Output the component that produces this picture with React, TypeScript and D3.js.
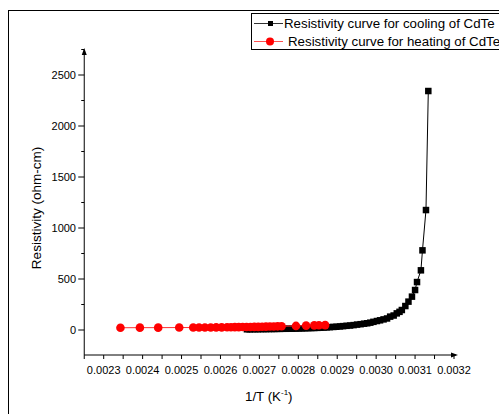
import React, { useMemo } from 'react'
import { scaleLinear, line } from 'd3'

// cooling run (black squares)
const coolX = [
    0.002668, 0.002675, 0.002682, 0.002689, 0.002696, 0.002703, 0.00271,
    0.002717, 0.002724, 0.002731, 0.002738, 0.002745, 0.002753, 0.002761,
    0.002769, 0.002777, 0.002785, 0.002793, 0.002801, 0.002809, 0.002817,
    0.002825, 0.002833, 0.002841, 0.002849, 0.002857, 0.002865, 0.002873,
    0.002881, 0.00289, 0.002898, 0.002907, 0.002915, 0.002924, 0.002933,
    0.002942, 0.002951, 0.00296, 0.002969, 0.002977, 0.002985, 0.002993,
    0.003002, 0.00301, 0.003019, 0.003028, 0.003036, 0.003045, 0.003053,
    0.00306, 0.003066, 0.003075, 0.003083, 0.003092, 0.0031, 0.003105,
    0.003115, 0.003119, 0.003128, 0.003134,
]
const coolY = [
    7, 7, 8, 8, 8, 9, 9, 9, 10, 10, 10, 11, 11, 12, 12, 13, 13, 14, 15, 16, 17,
    18, 19, 20, 21, 23, 24, 26, 28, 30, 32, 35, 38, 41, 44, 48, 53, 57, 62, 66,
    72, 80, 88, 95, 104, 113, 131, 142, 163, 178, 196, 235, 278, 327, 392, 470,
    585, 781, 1176, 2343,
]

// heating run (red circles)
const heatX = [
    0.002343, 0.002393, 0.00244, 0.002494, 0.00253, 0.002545, 0.00256,
    0.002575, 0.002589, 0.002603, 0.002617, 0.002627, 0.002637, 0.002647,
    0.002657, 0.002667, 0.002677, 0.002687, 0.002697, 0.002707, 0.002717,
    0.002727, 0.002737, 0.002747, 0.002757, 0.002794, 0.00282, 0.002841,
    0.002853, 0.002869,
]
const heatY = [
    22, 23, 23, 24, 24, 25, 25, 25, 26, 26, 27, 27, 28, 28, 29, 29, 30, 31, 31,
    32, 33, 34, 35, 36, 37, 40, 43, 45, 46, 48,
]

const xTicks = [
    0.0023, 0.0024, 0.0025, 0.0026, 0.0027, 0.0028, 0.0029, 0.003, 0.0031,
    0.0032,
]
const xTickLabels = [
    '0.0023', '0.0024', '0.0025', '0.0026', '0.0027', '0.0028', '0.0029',
    '0.0030', '0.0031', '0.0032',
]
const yTicks = [0, 500, 1000, 1500, 2000, 2500]

const legends = [
    'Resistivity curve for cooling of CdTe',
    'Resistivity curve for heating of CdTe',
]

const font = '"Liberation Sans", Arial, sans-serif'

export default function App() {
    const width = 499
    const height = 414

    const x = useMemo(
        () => scaleLinear().domain([0.0023, 0.0032]).range([103.7, 454]),
        []
    )
    const y = useMemo(
        () => scaleLinear().domain([0, 2500]).range([330, 75]),
        []
    )

    const axisX0 = x(0.00225)
    const axisX1 = 458
    const axisY0 = 355
    const axisY1 = 48

    const xMinor = xTicks.slice(0, -1).map((t, i) => (t + xTicks[i + 1]) / 2)
    xMinor.unshift(0.00225)
    const yMinor = yTicks.map(t => t + 250)

    const cool = coolX.map((v, i) => [v, coolY[i]])
    const heat = heatX.map((v, i) => [v, heatY[i]])
    const path = line()
        .x(d => x(d[0]))
        .y(d => y(d[1]))

    return (
        <svg
            width={width}
            height={height}
            style={{ position: 'absolute', left: 0, top: 0, background: 'white' }}
            fontFamily={font}
        >
            <rect x={8.5} y={10.5} width={600} height={600} fill='white' stroke='black' />

            {/* y axis */}
            <line x1={axisX0} x2={axisX0} y1={axisY0} y2={axisY1 + 2} stroke='black' />
            <path
                d={`M${axisX0},${axisY1} l-2.5,7 l5,0 z`}
                fill='black'
            />
            {yTicks.map(t => (
                <g key={t}>
                    <line x1={axisX0 - 6} x2={axisX0} y1={y(t)} y2={y(t)} stroke='black' />
                    <text
                        x={76}
                        y={y(t) + 4}
                        fontSize={11}
                        textAnchor='end'
                    >
                        {t}
                    </text>
                </g>
            ))}
            {yMinor.map(t => (
                <line key={t} x1={axisX0 - 3} x2={axisX0} y1={y(t)} y2={y(t)} stroke='black' />
            ))}

            {/* x axis */}
            <line x1={axisX0} x2={axisX1 - 2} y1={axisY0} y2={axisY0} stroke='black' />
            <path d={`M${axisX1},${axisY0} l-7,-2.5 l0,5 z`} fill='black' />
            {xMinor.concat(xTicks).map(t => (
                <line key={t} x1={x(t)} x2={x(t)} y1={axisY0} y2={axisY0 + 4} stroke='black' />
            ))}
            {xTicks.map((t, i) => (
                <text key={t} x={x(t)} y={374} fontSize={11} textAnchor='middle'>
                    {xTickLabels[i]}
                </text>
            ))}

            {/* axis titles */}
            <text x={245} y={401} fontSize={13.3}>
                1/T (K
                <tspan fontSize={8} dy={-6}>-1</tspan>
                <tspan dy={6}>)</tspan>
            </text>
            <text
                transform='translate(41, 208) rotate(-90)'
                fontSize={13.5}
                textAnchor='middle'
            >
                Resistivity (ohm-cm)
            </text>

            {/* cooling */}
            <path d={path(cool)} fill='none' stroke='black' strokeWidth={1} />
            {cool.map((d, i) => (
                <rect key={i} x={x(d[0]) - 3.25} y={y(d[1]) - 3.25} width={6.5} height={6.5} fill='black' />
            ))}

            {/* heating */}
            <path d={path(heat)} fill='none' stroke='#ff3030' strokeWidth={1} />
            {heat.map((d, i) => (
                <circle key={i} cx={x(d[0])} cy={y(d[1])} r={4.3} fill='#ff0000' />
            ))}

            {/* legend */}
            <g>
                <rect x={251.5} y={13.5} width={300} height={36} fill='white' stroke='black' />
                <line x1={254} x2={283} y1={23.5} y2={23.5} stroke='#333' />
                <rect x={268} y={21} width={5} height={5} fill='black' />
                <text x={284} y={28} fontSize={13.3}>
                    {legends[0]}
                </text>
                <line x1={254} x2={283} y1={41.5} y2={41.5} stroke='#ff5050' />
                <circle cx={270} cy={41.5} r={4} fill='#ff0000' />
                <text x={288} y={45.5} fontSize={13.3}>
                    {legends[1]}
                </text>
            </g>
        </svg>
    )
}
